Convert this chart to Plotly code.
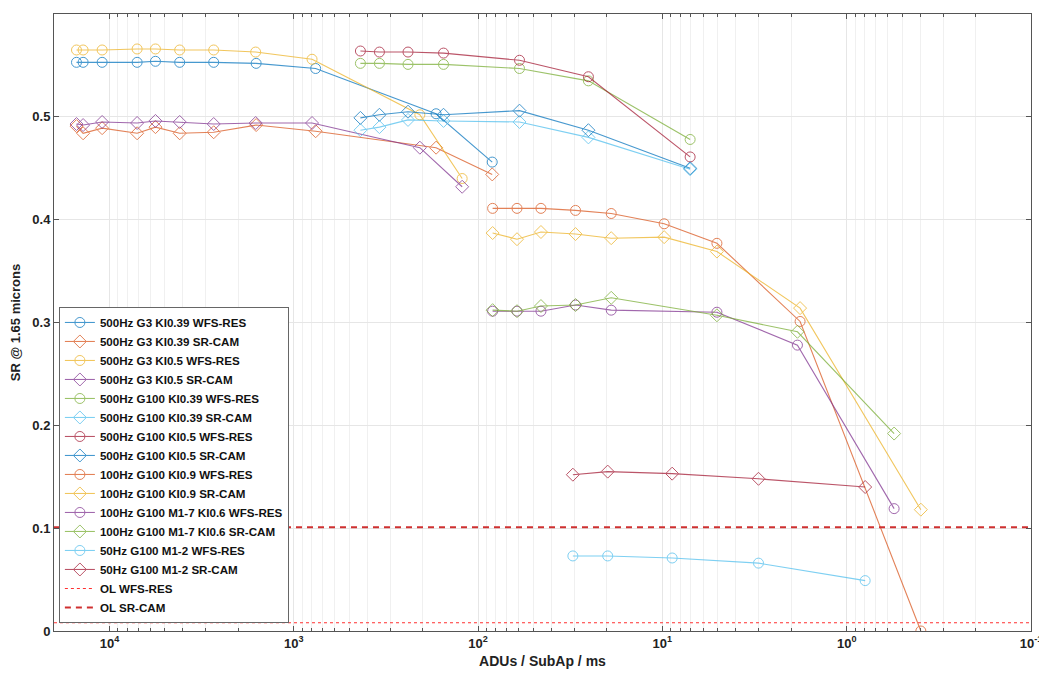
import plotly.graph_objects as go

# ---- data (x = ADUs / SubAp / ms, y = SR @ 1.65 microns) ----
x_g3_k39 = [15100, 13900, 10960, 7080, 5630, 4160, 2720, 1600, 761, 169, 83.8]
x_g3_k5 = [15100, 13900, 10960, 7080, 5630, 4160, 2720, 1610, 796, 207, 122]
x_g100_500 = [435, 343, 240, 154, 59.6, 25.2, 7.07]
x_100_k9 = [83.4, 61.5, 45.6, 29.6, 18.95, 9.78, 5.06, 1.79, 0.396]
x_100_m17 = [83.4, 61.5, 45.6, 29.6, 18.95, 5.06, 1.85, 0.553]
x_50 = [30.6, 19.8, 8.85, 3.01, 0.794]
x_ol = [2e4, 0.1]

y_500_g3_k39_wfs = [0.553, 0.553, 0.553, 0.553, 0.554, 0.553, 0.553, 0.552, 0.547, 0.503, 0.456]
y_500_g3_k39_sr = [0.491, 0.484, 0.489, 0.484, 0.490, 0.484, 0.485, 0.492, 0.486, 0.470, 0.444]
y_500_g3_k5_wfs = [0.565, 0.565, 0.565, 0.566, 0.566, 0.565, 0.565, 0.563, 0.556, 0.502, 0.440]
y_500_g3_k5_sr = [0.493, 0.492, 0.495, 0.494, 0.496, 0.495, 0.493, 0.494, 0.494, 0.470, 0.432]
y_500_g100_k39_wfs = [0.552, 0.552, 0.551, 0.551, 0.547, 0.535, 0.478]
y_500_g100_k39_sr = [0.487, 0.490, 0.497, 0.496, 0.495, 0.480, 0.449]
y_500_g100_k5_wfs = [0.564, 0.563, 0.563, 0.562, 0.555, 0.539, 0.461]
y_500_g100_k5_sr = [0.499, 0.502, 0.505, 0.502, 0.506, 0.487, 0.450]
y_100_k9_wfs = [0.411, 0.411, 0.411, 0.409, 0.406, 0.396, 0.377, 0.301, 0.0]
y_100_k9_sr = [0.387, 0.381, 0.388, 0.386, 0.382, 0.383, 0.369, 0.314, 0.118]
y_100_m17_wfs = [0.311, 0.311, 0.311, 0.317, 0.312, 0.310, 0.278, 0.119]
y_100_m17_sr = [0.312, 0.311, 0.316, 0.317, 0.324, 0.307, 0.291, 0.192]
y_50_wfs = [0.073, 0.073, 0.071, 0.066, 0.049]
y_50_sr = [0.152, 0.155, 0.153, 0.148, 0.140]
y_ol_wfs = [0.008, 0.008]
y_ol_sr = [0.101, 0.101]

x_tickvals = [1e4, 1e3, 1e2, 1e1, 1e0, 1e-1]
x_ticktext = ["10<sup>4</sup>", "10<sup>3</sup>", "10<sup>2</sup>",
              "10<sup>1</sup>", "10<sup>0</sup>", "10<sup>-1</sup>"]
y_tickvals = [0, 0.1, 0.2, 0.3, 0.4, 0.5, 0.6]

names = [
    "500Hz G3 KI0.39 WFS-RES", "500Hz G3 KI0.39 SR-CAM",
    "500Hz G3 KI0.5 WFS-RES", "500Hz G3 KI0.5 SR-CAM",
    "500Hz G100 KI0.39 WFS-RES", "500Hz G100 KI0.39 SR-CAM",
    "500Hz G100 KI0.5 WFS-RES", "500Hz G100 KI0.5 SR-CAM",
    "100Hz G100 KI0.9 WFS-RES", "100Hz G100 KI0.9 SR-CAM",
    "100Hz G100 M1-7 KI0.6 WFS-RES", "100Hz G100 M1-7 KI0.6 SR-CAM",
    "50Hz G100 M1-2 WFS-RES", "50Hz G100 M1-2 SR-CAM",
]
xs = [x_g3_k39, x_g3_k39, x_g3_k5, x_g3_k5,
      x_g100_500, x_g100_500, x_g100_500, x_g100_500,
      x_100_k9, x_100_k9, x_100_m17, x_100_m17, x_50, x_50]
ys = [y_500_g3_k39_wfs, y_500_g3_k39_sr, y_500_g3_k5_wfs, y_500_g3_k5_sr,
      y_500_g100_k39_wfs, y_500_g100_k39_sr, y_500_g100_k5_wfs, y_500_g100_k5_sr,
      y_100_k9_wfs, y_100_k9_sr, y_100_m17_wfs, y_100_m17_sr, y_50_wfs, y_50_sr]

colors = ["#0072BD", "#D95319", "#EDB120", "#7E2F8E", "#77AC30", "#4DBEEE", "#A2142F"]

FONT = "Liberation Sans, Arial, Helvetica"

fig = go.Figure()
for i, (n, x, y) in enumerate(zip(names, xs, ys)):
    c = colors[i % 7]
    sym = "circle-open" if i % 2 == 0 else "diamond-open"
    fig.add_trace(go.Scatter(
        x=x, y=y, name=n, mode="lines+markers",
        line=dict(color=c, width=1.1),
        marker=dict(symbol=sym, size=10, color=c, line=dict(width=1, color=c)),
        opacity=0.72,
    ))

fig.add_trace(go.Scatter(x=x_ol, y=y_ol_wfs, name="OL WFS-RES", mode="lines",
                         line=dict(color="#FF3030", width=1.2, dash="dot")))
fig.add_trace(go.Scatter(x=x_ol, y=y_ol_sr, name="OL SR-CAM", mode="lines",
                         line=dict(color="#CF3030", width=2, dash="6px,5px")))

axis_common = dict(
    showline=True, linecolor="#555555", linewidth=1, mirror="ticks",
    ticks="inside", ticklen=5, tickcolor="#555555", automargin=False,
    showgrid=True, gridcolor="#e6e6e6", gridwidth=1, zeroline=False,
    tickfont=dict(family=FONT, size=13, color="#222", weight="bold"),
)

# page has an 8px body margin, so the figure is sized/offset to compensate
fig.update_layout(
    width=1039, height=661,
    paper_bgcolor="white", plot_bgcolor="white",
    margin=dict(l=46, r=16, t=6, b=38),
    font=dict(family=FONT, size=12, color="#222"),
    showlegend=True,
    legend=dict(
        x=0.005, y=0.013, xanchor="left", yanchor="bottom",
        bgcolor="white", bordercolor="#666666", borderwidth=1,
        font=dict(family=FONT, size=11.6, color="#111", weight="bold"),
        tracegroupgap=0, itemwidth=30,
    ),
)
fig.update_xaxes(
    type="log", range=[4.301, -1],
    tickmode="array", tickvals=x_tickvals, ticktext=x_ticktext,
    minor=dict(ticks="inside", ticklen=3, tickcolor="#555555", showgrid=True,
               gridcolor="#f0f0f0", dtick="D1"),
    title=dict(text="ADUs / SubAp / ms", standoff=9,
               font=dict(family=FONT, size=14, color="#222", weight="bold")),
    **axis_common,
)
fig.update_yaxes(
    range=[0, 0.6], tickmode="array", tickvals=y_tickvals,
    title=dict(text="SR @ 1.65 microns", standoff=12,
               font=dict(family=FONT, size=13, color="#222", weight="bold")),
    **axis_common,
)

fig.write_html("out.html")
